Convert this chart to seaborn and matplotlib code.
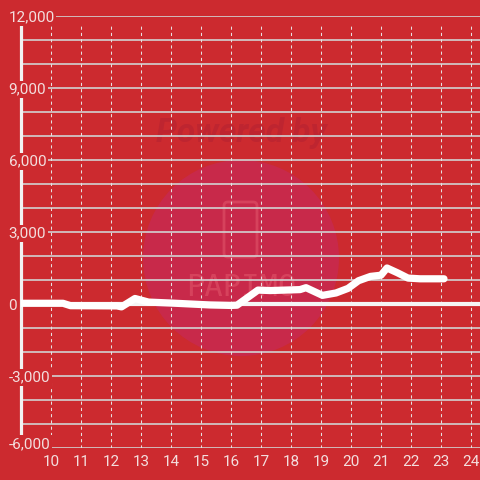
import matplotlib
matplotlib.use("Agg")
import matplotlib.pyplot as plt
import seaborn as sns
import pandas as pd
from matplotlib.patches import Circle, FancyBboxPatch

# ---- data ----
hours = [9.0, 10.4, 10.65, 12.2, 12.35, 12.8, 13.25, 14.0, 15.3, 16.0, 16.2,
         16.9, 17.3, 18.3, 18.5, 19.05, 19.5, 19.9, 20.25, 20.65, 21.0, 21.2,
         21.55, 21.9, 22.3, 23.1]
values = [30, 30, -70, -80, -120, 230, 80, 40, -40, -60, -50,
          580, 560, 600, 680, 360, 460, 650, 970, 1150, 1200, 1500,
          1300, 1080, 1050, 1050]
y_major = [-6000, -3000, 0, 3000, 6000, 9000, 12000]
y_grid = list(range(-6000, 12001, 1000))
x_ticks = list(range(10, 25))

BG = "#cc2a2f"
TXT = "#f3dede"
GRID = "#d2d2d2"

sns.set_style("white")
plt.rcParams["font.family"] = ["Roboto", "DejaVu Sans"]

fig = plt.figure(figsize=(4.8, 4.8), dpi=100, facecolor=BG)

# watermark (behind the axes)
fig.patches.append(Circle((241 / 480, 1 - 258 / 480), 98 / 480, transform=fig.transFigure,
                          facecolor="#c8294a", edgecolor="none", zorder=-2))
fig.text(241 / 480, 1 - 133 / 480, "Powered by", ha="center", va="center", fontsize=24,
         fontweight="bold", style="italic", color=(0.62, 0.10, 0.20, 0.30), zorder=-1)
fig.text(241 / 480, 1 - 288 / 480, "PAPIMO", ha="center", va="center", fontsize=22,
         family="DejaVu Sans Mono", color=(0.95, 0.45, 0.5, 0.35), zorder=-1)
fig.patches.append(FancyBboxPatch((224 / 480, 1 - 257 / 480), 33 / 480, 55 / 480,
                                  boxstyle="round,pad=0,rounding_size=0.008",
                                  transform=fig.transFigure, facecolor="none",
                                  edgecolor=(0.95, 0.45, 0.5, 0.35), lw=2, zorder=-1))

ax = fig.add_axes([21 / 480, 32 / 480, 459 / 480, 432 / 480])
ax.set_facecolor("none")
ax.set_zorder(1)

df = pd.DataFrame({"hour": hours, "value": values})
sns.lineplot(data=df, x="hour", y="value", ax=ax, color="white", lw=5.2, zorder=3)

ax.set_xlim(9, 24.3)
ax.set_ylim(-6000, 12000)

# horizontal grid (below the data)
ax.hlines(y_grid, 9, 24.3, colors=GRID, lw=1.2, zorder=1)
# vertical dotted grid
ax.vlines(x_ticks, -6000, 11700, colors="#e6e0e0", linestyles=(0, (3, 3)), lw=0.75, zorder=1.1)
# zero line
ax.axhline(0, color="#f5f5f5", lw=3, zorder=2.2)

ax.set_yticks(y_major)
ax.set_yticklabels([f"{v:,}" for v in y_major])
ax.set_xticks(x_ticks)
ax.set_xticklabels([str(t) for t in x_ticks])
ax.grid(False)
ax.tick_params(axis="both", which="both", length=0, colors=TXT, labelsize=11)
ax.tick_params(axis="x", pad=5)
ax.tick_params(axis="y", pad=9)
ylabs = ax.get_yticklabels()
for lab in ylabs:
    lab.set_horizontalalignment("left")
    lab.set_bbox(dict(facecolor=BG, edgecolor="none", pad=1.2))
ylabs[0].set_verticalalignment("baseline")
ax.yaxis.set_zorder(4)

for s in ["top", "right", "bottom"]:
    ax.spines[s].set_visible(False)
ax.spines["left"].set_color("#f2f2f2")
ax.spines["left"].set_linewidth(2.3)

ax.set_xlabel("")
ax.set_ylabel("")

fig.savefig("out.png", dpi=100, facecolor=BG)
